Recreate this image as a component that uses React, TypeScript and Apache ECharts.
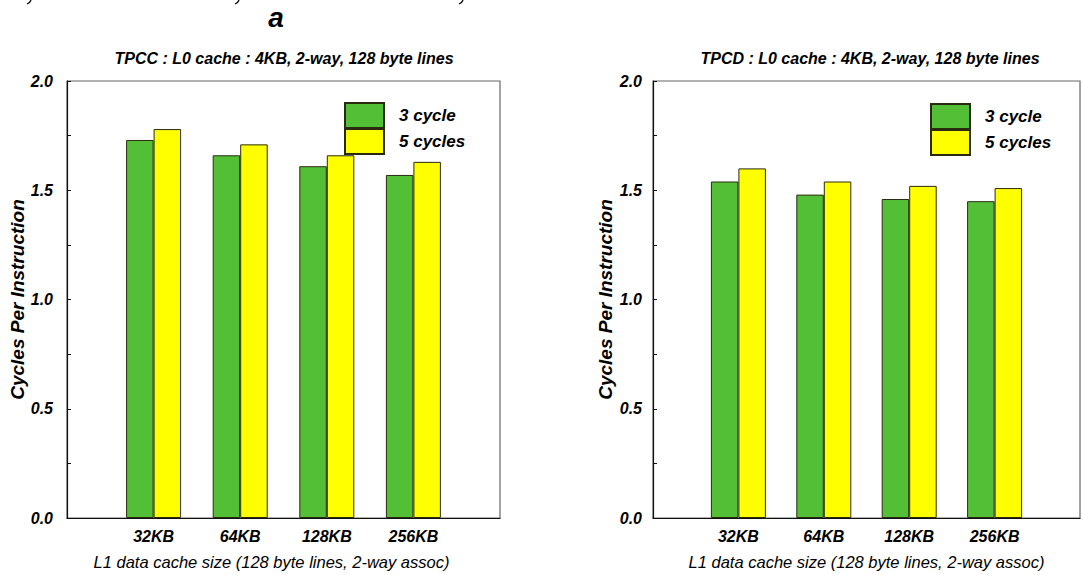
import React, { useEffect, useRef } from 'react';
import * as echarts from 'echarts';

const categories = ['32KB', '64KB', '128KB', '256KB'];
const seriesNames = ['3 cycle', '5 cycles'];
const tpcc3Cycle = [1.73, 1.66, 1.61, 1.57];
const tpcc5Cycles = [1.78, 1.71, 1.66, 1.63];
const tpcd3Cycle = [1.54, 1.48, 1.46, 1.45];
const tpcd5Cycles = [1.6, 1.54, 1.52, 1.51];
const titles = [
  'TPCC : L0 cache : 4KB, 2-way, 128 byte lines',
  'TPCD : L0 cache : 4KB, 2-way, 128 byte lines',
];
const xName = 'L1 data cache size (128 byte lines, 2-way assoc)';
const yName = 'Cycles Per Instruction';
const yMin = 0;
const yMax = 2;
const yInterval = 0.5;

const FONT = '"Liberation Sans", Arial, sans-serif';
const GREEN = '#53bf36';
const YELLOW = '#ffff00';
const BORDER = '#2a2a10';

const pad = (arr: number[]) => ['-', ...arr, '-'];

export default function App() {
  const ref = useRef<HTMLDivElement>(null);
  useEffect(() => {
    document.body.style.margin = '0';
    const chart = echarts.init(ref.current!, null, { renderer: 'svg' });
    const grids = [
      { left: 67, top: 81, width: 433, height: 438 },
      { left: 653, top: 81, width: 434, height: 438 },
    ];
    const xAxes = grids.map((_, i) => ({
      type: 'category',
      gridIndex: i,
      data: ['', ...categories, ''],
      boundaryGap: false,
      axisTick: { show: false },
      axisLine: { lineStyle: { color: '#111', width: 1.2 } },
      axisLabel: {
        color: '#000',
        fontFamily: FONT,
        fontWeight: 'bold',
        fontStyle: 'italic',
        fontSize: 16,
        margin: 10,
      },
      name: xName,
      nameLocation: 'middle',
      nameGap: 35,
      nameTextStyle: {
        color: '#000',
        fontFamily: FONT,
        fontStyle: 'italic',
        fontSize: 16.5,
        padding: i === 0 ? [0, 24, 0, 0] : 0,
      },
    }));
    const yAxes = grids.map((_, i) => ({
      type: 'value',
      gridIndex: i,
      min: yMin,
      max: yMax,
      interval: yInterval,
      splitLine: { show: false },
      axisLine: { show: true, lineStyle: { color: '#111', width: 1.2 } },
      axisTick: { show: true, inside: true, length: 4, lineStyle: { color: '#111' } },
      minorTick: { show: true, splitNumber: 2, length: 4, lineStyle: { color: '#111' } },
      axisLabel: {
        color: '#000',
        fontFamily: FONT,
        fontWeight: 'bold',
        fontStyle: 'italic',
        fontSize: 16,
        margin: i === 0 ? 14 : 11,
        formatter: (v: number) => v.toFixed(1),
      },
      name: yName,
      nameLocation: 'middle',
      nameRotate: 90,
      nameGap: i === 0 ? 40 : 38,
      nameTextStyle: {
        color: '#000',
        fontFamily: FONT,
        fontWeight: 'bold',
        fontStyle: 'italic',
        fontSize: 19,
      },
    }));
    const data = [
      [tpcc3Cycle, tpcc5Cycles],
      [tpcd3Cycle, tpcd5Cycles],
    ];
    const series: any[] = [];
    data.forEach((pair, g) => {
      pair.forEach((vals, s) => {
        series.push({
          type: 'bar',
          name: seriesNames[s],
          xAxisIndex: g,
          yAxisIndex: g,
          data: pad(vals),
          barWidth: 27.5,
          barGap: '0%',
          itemStyle: {
            color: s === 0 ? GREEN : YELLOW,
            borderColor: BORDER,
            borderWidth: 1,
          },
        });
      });
    });
    const legendPos = [
      { left: 339, top: 97 },
      { left: 925, top: 98 },
    ];
    const legends = legendPos.map((p) => ({
      ...p,
      orient: 'vertical',
      icon: 'rect',
      itemWidth: 39,
      itemHeight: 25,
      itemGap: -1,
      selectedMode: false,
      data: seriesNames,
      textStyle: {
        color: '#000',
        fontFamily: FONT,
        fontWeight: 'bold',
        fontStyle: 'italic',
        fontSize: 17,
        padding: [0, 0, 0, 10],
      },
    }));
    const titleFont = {
      fontFamily: FONT,
      fontWeight: 'bold',
      fontStyle: 'italic',
      fontSize: 16,
      fill: '#000',
      align: 'center',
      verticalAlign: 'top',
    };
    chart.setOption({
      animation: false,
      backgroundColor: '#fff',
      grid: grids.map((g) => ({ ...g, show: true, borderColor: '#666', borderWidth: 1.2 })),
      xAxis: xAxes,
      yAxis: yAxes,
      legend: legends,
      series,
      graphic: [
        { type: 'text', x: 284, y: 50, style: { ...titleFont, text: titles[0] } },
        { type: 'text', x: 870, y: 50, style: { ...titleFont, text: titles[1] } },
        {
          type: 'text',
          x: 276,
          y: 3,
          style: { ...titleFont, text: 'a', fontSize: 28 },
        },
        ...[30, 238, 462].map((x) => ({
          type: 'bezierCurve',
          shape: { x1: x + 1, y1: 0, x2: x - 3, y2: 4, cpx1: x, cpy1: 3 },
          style: { stroke: '#000', lineWidth: 1.3, fill: 'none' },
        })),
      ],
    });
    return () => chart.dispose();
  }, []);
  return <div ref={ref} style={{ width: 1083, height: 575 }} />;
}
